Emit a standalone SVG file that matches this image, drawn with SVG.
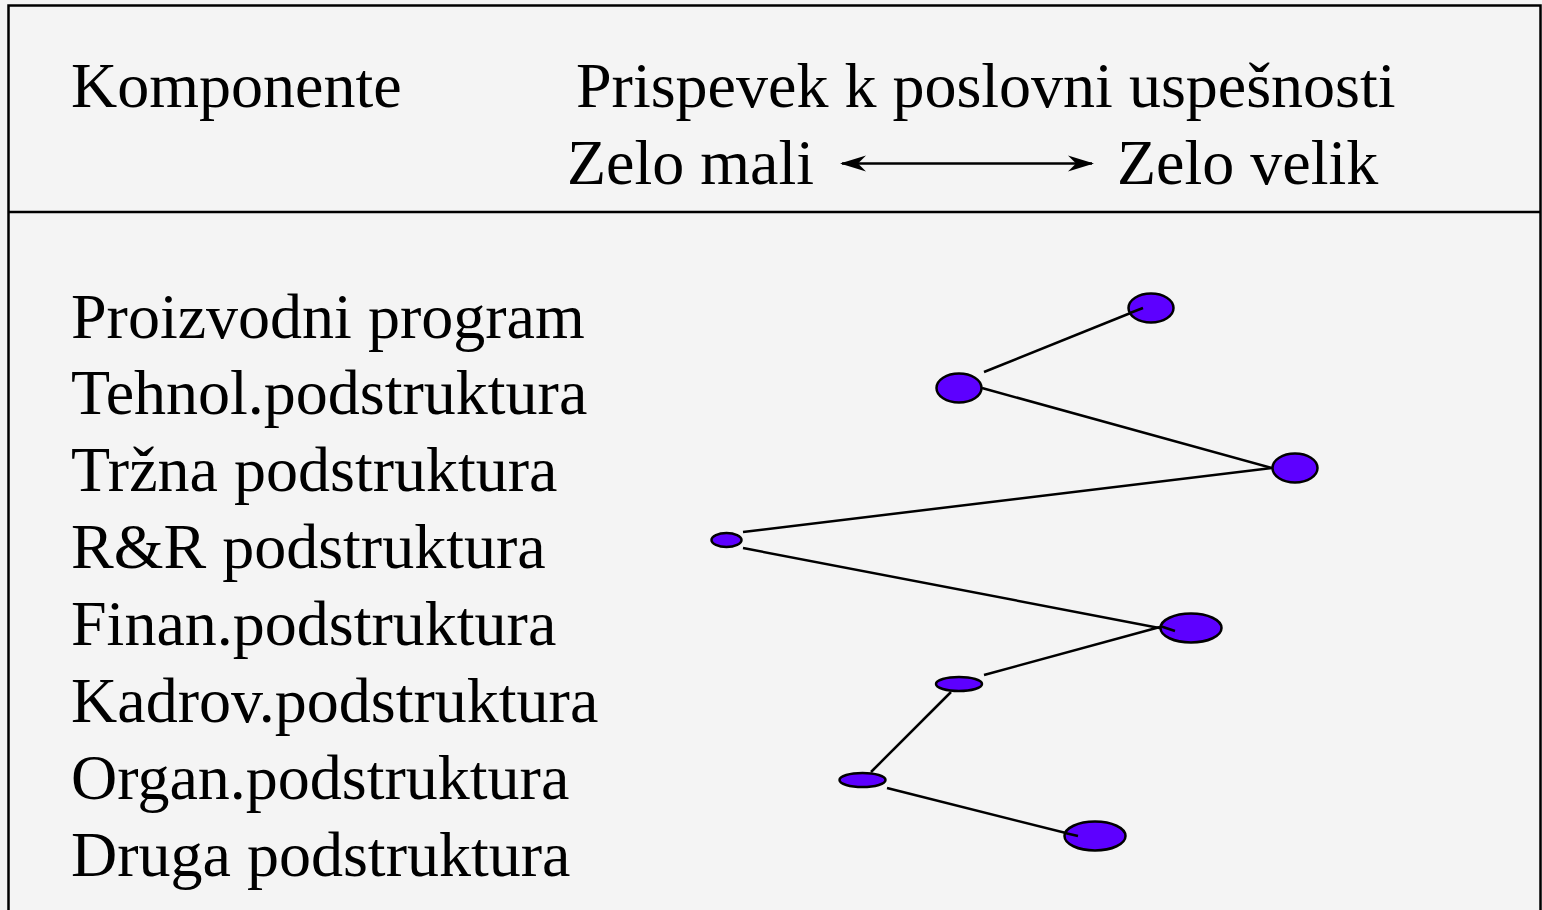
<svg xmlns="http://www.w3.org/2000/svg" width="1542" height="910" viewBox="0 0 1542 910">
<style>
text{font-family:"Liberation Serif","Times New Roman",serif;font-size:64px;fill:#000}
.n{fill:#5d00ff;stroke:#000;stroke-width:2.5}
.c{stroke:#000;stroke-width:2.5;fill:none}
</style>
<defs>
<marker id="ah" viewBox="0 0 26 18" refX="24" refY="9" markerWidth="26" markerHeight="18" markerUnits="userSpaceOnUse" orient="auto-start-reverse">
<path d="M0,1 L26,9 L0,17 L8,9 Z" fill="#000"/>
</marker>
</defs>
<rect x="0" y="0" width="1542" height="910" fill="#f4f4f4"/>
<path d="M8.5,920 V5.5 H1540.5 V920" fill="none" stroke="#000" stroke-width="2.5"/>
<line x1="8" y1="212" x2="1541" y2="212" stroke="#000" stroke-width="2.5"/>
<g id="header">
<text x="71" y="107">Komponente</text>
<text x="576" y="107">Prispevek k poslovni uspešnosti</text>
<text x="567" y="184">Zelo mali</text>
<text x="1117" y="184">Zelo velik</text>
<line x1="842" y1="163.5" x2="1092" y2="163.5" stroke="#000" stroke-width="2.5" marker-start="url(#ah)" marker-end="url(#ah)"/>
</g>
<g id="labels">
<text x="71" y="338">Proizvodni program</text>
<text x="71" y="414">Tehnol.podstruktura</text>
<text x="71" y="491">Tržna podstruktura</text>
<text x="71" y="568">R&amp;R podstruktura</text>
<text x="71" y="645">Finan.podstruktura</text>
<text x="71" y="722">Kadrov.podstruktura</text>
<text x="71" y="799">Organ.podstruktura</text>
<text x="71" y="876">Druga podstruktura</text>
</g>
<g id="connectors">
<line class="c" x1="984" y1="372" x2="1143" y2="308"/>
<line class="c" x1="982" y1="388" x2="1272" y2="468"/>
<line class="c" x1="1272" y1="468" x2="743" y2="532"/>
<line class="c" x1="743" y1="548" x2="1175" y2="631"/>
<line class="c" x1="1160" y1="627" x2="984" y2="675"/>
<line class="c" x1="951" y1="692" x2="871" y2="772"/>
<line class="c" x1="887" y1="788" x2="1078" y2="836"/>
</g>
<g id="n1"><ellipse class="n" cx="1151" cy="308" rx="22.5" ry="14.5"/></g>
<g id="n2"><ellipse class="n" cx="959" cy="388" rx="22.5" ry="14.5"/></g>
<g id="n3"><ellipse class="n" cx="1295" cy="468" rx="22.5" ry="14.5"/></g>
<g id="n4"><ellipse class="n" cx="726.5" cy="540" rx="15" ry="7"/></g>
<g id="n5"><ellipse class="n" cx="1191" cy="628" rx="30.5" ry="14.5"/></g>
<g id="n6"><ellipse class="n" cx="959" cy="684" rx="23" ry="7"/></g>
<g id="n7"><ellipse class="n" cx="862.5" cy="780" rx="23" ry="7"/></g>
<g id="n8"><ellipse class="n" cx="1095" cy="836" rx="30.5" ry="14.5"/></g>
<g id="connectors-top">
<line class="c" x1="1130" y1="313" x2="1143" y2="308"/>
<line class="c" x1="1160" y1="626" x2="1175" y2="631"/>
<line class="c" x1="1065" y1="833" x2="1078" y2="836"/>
</g>
</svg>
